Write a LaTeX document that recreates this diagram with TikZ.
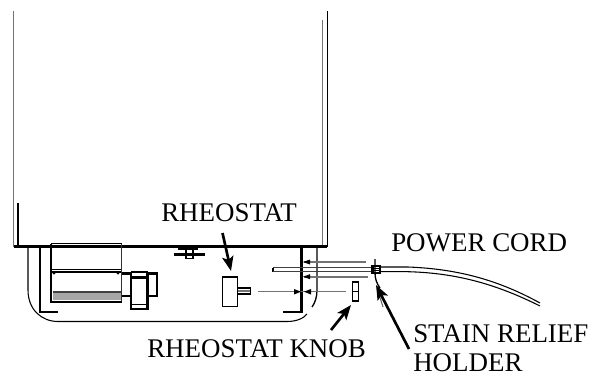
\documentclass[tikz,border=0pt]{standalone}
\usepackage{fontspec}
\setmainfont{Liberation Serif}
\usetikzlibrary{arrows.meta}
\tikzset{
  x=0.75pt,y=-0.75pt,
  lab/.style={font=\fontsize{20.2}{22}\selectfont,inner sep=0pt,anchor=base west,align=left},
  callout/.style={line width=2pt,-{Stealth[length=11pt,width=8.5pt,inset=2.5pt]}},
  thin line/.style={line width=0.8pt},
  med/.style={line width=1pt},
  heavy/.style={line width=1.7pt},
  grayl/.style={line width=1.1pt,draw=black!55}
}
\begin{document}
\begin{tikzpicture}
\useasboundingbox (0,0) rectangle (603,375);
% cabinet
\draw[line width=1.3pt,draw=black!55] (13.5,11) -- (13.5,247);
\draw[med] (18,203) -- (18,247);
\draw[med] (327.5,11) -- (327.5,247);
\draw[grayl] (322.5,20) -- (322.5,247);
\draw[heavy] (14,246.5) -- (327,246.5);
% base
\draw[thin line] (28,247) -- (28,290) .. controls (28,310) and (42,321.5) .. (58,321.5) -- (287,321.5) .. controls (297,321.5) and (304,318) .. (307,314);
\draw[med] (40,247) -- (40,312) -- (58,312);
\draw[heavy] (301.5,247) -- (301.5,312) -- (283,312);
\draw[med] (317,247) -- (317,290) .. controls (317,297) and (315,303) .. (312,307);
% motor
\fill[black!35] (53,292.5) rectangle (121,300);
\draw[thin line,black!75] (53,292) -- (121,292);
\draw[line width=1.2pt] (51,243.5) -- (121.5,243.5);
\draw[line width=1.2pt,black!80] (121.5,243.5) -- (121.5,302);
\draw[heavy] (51,243.5) -- (51,302) -- (121.5,302);
\draw[thin line] (52,269.5) -- (121,269.5);
\draw[heavy] (52,272) -- (121,272);
\fill (54,273) circle (1.6) (118,273) circle (1.6);
\draw[heavy] (121.5,273.5) -- (131,273.5) (121.5,296) -- (131,296);
\draw[heavy] (131,272) -- (131,309) -- (147.5,309) -- (147.5,272);
\draw[med] (131,272) -- (147.5,272);
\draw[heavy] (131,277.5) -- (147.5,277.5);
\draw[thin line] (131,304.5) -- (147.5,304.5);
\draw[heavy] (147.5,273.5) -- (157,273.5) -- (157,296) -- (147.5,296);
% bolt
\draw[heavy] (174,254.5) -- (205,254.5);
\draw[thin line] (178,249) -- (198,249);
\draw[thin line] (186,248) -- (186,254) (193,248) -- (193,254);
\draw[med] (186,254) -- (186,258.5) -- (193,258.5) -- (193,254);
% rheostat
\draw[med] (222.5,277) rectangle (237.5,306.5);
\draw[thin line] (237.5,288) -- (250.5,288) -- (250.5,294) -- (237.5,294);
\draw[grayl] (237.5,291) -- (250,291);
\draw[grayl] (258,291.7) -- (346,291.7);
\fill (301,291.7) -- (294,289) -- (294,294.5) -- cycle;
\fill (304,291.7) -- (311,289) -- (311,294.5) -- cycle;
% knob
\draw[med] (352.5,282) rectangle (358.5,301);
\draw[thin line] (352.5,291.7) -- (358.5,291.7);
% holes / cord
\draw[grayl] (304,262) -- (366,262);
\draw[line width=1.4pt,draw=black!55] (304,276.7) -- (368,276.7);
\fill (303,262) -- (310,259.5) -- (310,264.5) -- cycle;
\fill (303,276.7) -- (310,274.2) -- (310,279.2) -- cycle;
\draw[thin line] (273,267.5) -- (273,271.7);
\draw[line width=1.1pt,draw=black!75] (273,267.5) -- (372,267.5) (273,271.7) -- (372,271.7);
\draw[thin line] (380,267) -- (408,267) .. controls (460,269) and (500,281) .. (540,303);
\draw[thin line] (380,271.7) -- (408,271.7) .. controls (458,273) and (498,285) .. (540,306);
\fill (371,265) rectangle (381,274);
\draw[white,line width=0.4pt] (374,267.5) -- (379,267.5) (374,269.5) -- (379,269.5) (374,271.5) -- (379,271.5);
\draw[med] (375,259) -- (375,273) .. controls (375,279) and (377,284) .. (380,288);
\draw[thin line,black!60] (378,291) -- (383,307);
% labels
\node[lab] (rh) at (161,221) {RHEOSTAT};
\node[lab] (kn) at (147,357) {RHEOSTAT KNOB};
\node[lab] (pc) at (391,251) {POWER CORD};
\node[lab] (sr) at (413,342) {STAIN RELIEF};
\node[lab] (ho) at (413,371) {HOLDER};
% callouts
\coordinate (a1) at (222.5,233); \coordinate (a2) at (231,271);
\draw[callout] (a1) -- (a2);
\coordinate (b1) at (331,330); \coordinate (b2) at (351,305);
\draw[callout] (b1) -- (b2);
\coordinate (c1) at (409,349); \coordinate (c2) at (376,285);
\draw[callout] (c1) -- (c2);
\end{tikzpicture}
\end{document}
